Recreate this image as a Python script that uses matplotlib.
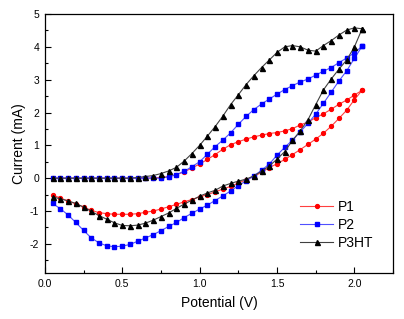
import numpy as np
import matplotlib
matplotlib.use("Agg")
import matplotlib.pyplot as plt
from matplotlib.ticker import MultipleLocator

plt.rcParams['font.family'] = ['Liberation Sans', 'DejaVu Sans']
plt.rcParams['axes.unicode_minus'] = False

# Potential steps (V): forward 0.05 -> 2.05, then reverse 2.05 -> 0.05
v_fwd = [round(0.05 * i, 2) for i in range(1, 42)]
v_rev = v_fwd[::-1]

# P1 (red)
p1_fwd = [0, 0, 0, 0, 0, 0, 0, 0, 0, 0, 0, 0, 0, 0.01, 0.02, 0.05, 0.11, 0.19, 0.31, 0.43,
          0.57, 0.72, 0.88, 1.02, 1.11, 1.19, 1.26, 1.31, 1.36, 1.39, 1.44, 1.51, 1.62, 1.71,
          1.84, 1.96, 2.10, 2.25, 2.38, 2.53, 2.68]
p1_rev = [2.68, 2.39, 2.07, 1.82, 1.58, 1.37, 1.19, 1.03, 0.87, 0.72, 0.57, 0.44, 0.32, 0.18,
          0.05, -0.05, -0.15, -0.25, -0.33, -0.42, -0.50, -0.57, -0.65, -0.72, -0.80, -0.87,
          -0.94, -1.00, -1.04, -1.08, -1.10, -1.10, -1.10, -1.08, -1.05, -0.98, -0.88, -0.78,
          -0.70, -0.60, -0.52]

# P2 (blue)
p2_fwd = [0, 0, 0, 0, 0, 0, 0, 0, 0, 0, 0, 0, 0, 0, 0, 0.04, 0.11, 0.21, 0.35, 0.50,
          0.73, 0.96, 1.16, 1.38, 1.64, 1.88, 2.09, 2.26, 2.41, 2.56, 2.70, 2.82, 2.93, 3.02,
          3.14, 3.26, 3.37, 3.52, 3.66, 3.82, 4.02]
p2_rev = [4.02, 3.65, 3.27, 2.96, 2.62, 2.28, 1.95, 1.67, 1.41, 1.16, 0.94, 0.70, 0.43, 0.24,
          0.07, -0.08, -0.23, -0.39, -0.54, -0.68, -0.82, -0.94, -1.07, -1.20, -1.35, -1.47,
          -1.60, -1.72, -1.82, -1.92, -2.02, -2.07, -2.09, -2.06, -1.97, -1.82, -1.59, -1.35,
          -1.12, -0.93, -0.77]

# P3HT (black)
p3_fwd = [0, 0, 0, 0, 0, 0, 0, 0, 0, 0, 0, 0.02, 0.05, 0.08, 0.14, 0.22, 0.33, 0.52, 0.75, 1.00,
          1.28, 1.57, 1.89, 2.24, 2.54, 2.85, 3.12, 3.37, 3.60, 3.83, 4.00, 4.04, 4.00, 3.90,
          3.87, 4.04, 4.19, 4.36, 4.51, 4.58, 4.55]
p3_rev = [4.55, 4.00, 3.60, 3.32, 3.02, 2.69, 2.24, 1.78, 1.44, 1.15, 0.81, 0.58, 0.37, 0.21,
          0.07, -0.03, -0.09, -0.16, -0.24, -0.37, -0.45, -0.55, -0.67, -0.79, -0.92, -1.06,
          -1.17, -1.28, -1.37, -1.43, -1.45, -1.44, -1.36, -1.25, -1.14, -1.01, -0.88, -0.77,
          -0.69, -0.63, -0.57]

labels = ["P1", "P2", "P3HT"]

fig = plt.figure(figsize=(4.04, 3.19), dpi=100)
ax = fig.add_axes([0.111, 0.143, 0.862, 0.813])

x_all = v_fwd + v_rev
ax.plot(x_all, p1_fwd + p1_rev, color='#ff4040', lw=0.8, marker='o', ms=2.8,
        mfc='#ff0000', mec='#ff0000', label=labels[0])
ax.plot(x_all, p2_fwd + p2_rev, color='#5050ff', lw=0.8, marker='s', ms=2.7,
        mfc='#0000ff', mec='#0000ff', label=labels[1])
ax.plot(x_all, p3_fwd + p3_rev, color='#404040', lw=0.8, marker='^', ms=3.6,
        mfc='#000000', mec='#000000', label=labels[2])

ax.set_xlim(0, 2.25)
ax.set_ylim(-2.9, 5)
ax.xaxis.set_major_locator(MultipleLocator(0.5))
ax.xaxis.set_minor_locator(MultipleLocator(0.25))
ax.yaxis.set_major_locator(MultipleLocator(1))
ax.yaxis.set_minor_locator(MultipleLocator(0.5))
ax.xaxis.set_major_formatter(matplotlib.ticker.FormatStrFormatter('%.1f'))
ax.yaxis.set_major_formatter(matplotlib.ticker.FormatStrFormatter('%d'))
ax.tick_params(which='both', direction='in', labelsize=7.5, width=0.8, pad=4)
ax.tick_params(which='major', length=4)
ax.tick_params(which='minor', length=2)
for s in ax.spines.values():
    s.set_linewidth(0.9)

ax.set_xlabel("Potential (V)", fontsize=10, labelpad=5)
ax.set_ylabel("Current (mA)", fontsize=10, labelpad=3)

leg = ax.legend(loc='lower left', bbox_to_anchor=(0.733, 0.09), frameon=False,
                fontsize=10, handlelength=2.4, handletextpad=0.3, labelspacing=0.3,
                borderaxespad=0, borderpad=0)

fig.savefig("out.png", dpi=100)
